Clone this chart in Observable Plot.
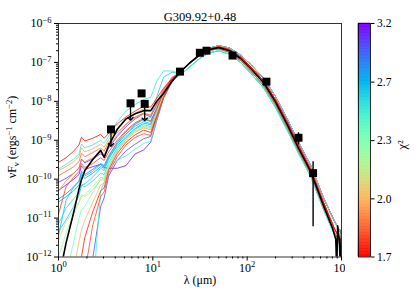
<!DOCTYPE html>
<html><head><meta charset="utf-8">
<script src="https://cdn.jsdelivr.net/npm/d3@7"></script>
<script src="https://cdn.jsdelivr.net/npm/@observablehq/plot@0.6"></script>
<style>
html,body{margin:0;padding:0;background:#fff;}
#wrap{position:relative;width:415px;height:298px;overflow:hidden;background:#fff;}
#main{position:absolute;left:0;top:0;}
#cbar{position:absolute;left:345px;top:0;}
</style></head><body>
<div id="wrap"><div id="main"></div><div id="cbar"></div></div>
<script>
const title = "G309.92+0.48";
const xLabel = "λ (μm)";
const chiLabel = "χ²";

// wavelength grid of the model SEDs (μm)
const lam = [1.0,1.2,1.45,1.65,1.75,1.9,2.3,2.8,3.05,3.4,4.2,5.2,6.5,8.0,9.5,11,13,16,20,25,32,40,50,65,85,110,150,200,270,350,470,650,850,1000];

// long-wavelength parts (20..1000 μm), log10 νFν
const tailA = [-7.24,-7.0,-6.77,-6.63,-6.57,-6.63,-6.81,-7.06,-7.41,-7.88,-8.48,-9.05,-9.64,-10.5,-11.1,-11.4];
const tailB = [-7.3,-7.1,-6.88,-6.75,-6.7,-6.79,-7.0,-7.29,-7.66,-8.16,-8.77,-9.33,-9.92,-10.8,-11.45,-11.75];
const tailC = [-7.23,-7.0,-6.78,-6.65,-6.60,-6.67,-6.86,-7.12,-7.48,-7.96,-8.56,-9.13,-9.74,-10.62,-11.3,-11.6];
const tailD = [-7.22,-7.01,-6.81,-6.69,-6.65,-6.74,-6.95,-7.23,-7.6,-8.09,-8.7,-9.27,-9.86,-10.75,-11.4,-11.7];

// chi2 of each model
const modelChi = [1.72,2.55,1.95,1.85,3.05,3.15,2.85,2.75,1.78,2.7,2.6,2.1,2.35,2.0,1.74,1.8,3.0,2.5,2.65,1.9,2.25];
// which tail each model uses
const modelTail = ["C","B","C","D","A","A","A","D","C","D","B","A","D","C","C","D","A","B","B","C","D"];
// short-wavelength parts (1..16 μm), log10 νFν
const modelShort = [
[-9.57,-9.45,-9.28,-9.12,-8.92,-9.02,-8.95,-8.85,-8.95,-8.82,-8.58,-8.4,-8.25,-8.12,-8.15,-7.92,-7.66,-7.42],
[-9.74,-9.62,-9.48,-9.35,-9.1,-9.2,-9.12,-9.0,-9.08,-8.9,-8.52,-8.25,-8.08,-7.95,-7.9,-7.48,-7.22,-7.22],
[-9.78,-9.68,-9.55,-9.42,-9.2,-9.3,-9.22,-9.1,-9.18,-8.98,-8.7,-8.48,-8.3,-8.2,-8.25,-8.02,-7.7,-7.40],
[-9.91,-9.8,-9.68,-9.55,-9.33,-9.42,-9.32,-9.2,-9.28,-9.05,-8.8,-8.58,-8.4,-8.3,-8.35,-8.1,-7.76,-7.42],
[-10.08,-9.98,-9.85,-9.72,-9.48,-9.58,-9.48,-9.35,-9.42,-9.2,-8.9,-8.65,-8.45,-8.32,-8.4,-8.08,-7.7,-7.38],
[-10.29,-10.15,-10.0,-9.88,-9.66,-9.75,-9.68,-9.62,-9.7,-9.72,-9.72,-9.65,-9.35,-9.25,-9.05,-8.5,-7.9,-7.5],
[-10.51,-10.38,-10.2,-10.05,-9.8,-9.88,-9.75,-9.6,-9.65,-9.4,-9.05,-8.78,-8.58,-8.46,-8.52,-8.18,-7.78,-7.42],
[-10.59,-10.45,-10.3,-10.15,-9.9,-9.98,-9.85,-9.68,-9.72,-9.45,-9.15,-8.9,-8.7,-8.56,-8.6,-8.23,-7.8,-7.45],
[-10.9,-10.2,-9.95,-9.8,-9.6,-9.7,-9.6,-9.45,-9.52,-9.3,-9.0,-8.75,-8.55,-8.44,-8.5,-8.18,-7.76,-7.42],
[-11.45,-10.55,-10.2,-10.05,-9.85,-9.92,-9.8,-9.62,-9.68,-9.42,-9.08,-8.84,-8.64,-8.52,-8.57,-8.23,-7.8,-7.45],
[-11.15,-10.75,-10.5,-10.35,-10.15,-10.2,-10.05,-9.85,-9.88,-9.58,-9.2,-8.94,-8.72,-8.6,-8.65,-8.28,-7.84,-7.47],
[-11.58,-11.1,-10.8,-10.6,-10.4,-10.45,-10.28,-10.02,-10.03,-9.72,-9.28,-8.98,-8.77,-8.65,-8.7,-8.3,-7.84,-7.43],
[-13.0,-12.5,-11.6,-11.0,-10.78,-10.7,-10.35,-10.0,-9.98,-9.62,-9.24,-8.96,-8.75,-8.63,-8.68,-8.28,-7.8,-7.43],
[-13.5,-13.0,-12.3,-11.6,-11.32,-11.05,-10.6,-10.15,-10.1,-9.72,-9.28,-9.0,-8.8,-8.68,-8.73,-8.33,-7.85,-7.45],
[-14.0,-13.5,-12.9,-12.3,-12.0,-11.5,-10.85,-10.3,-10.22,-9.77,-9.34,-9.05,-8.86,-8.74,-8.8,-8.38,-7.88,-7.45],
[-14.5,-14.0,-13.5,-13.0,-12.7,-12.4,-11.2,-10.45,-10.32,-9.85,-9.42,-9.12,-8.93,-8.83,-8.88,-8.43,-7.92,-7.47],
[-15.0,-14.6,-14.1,-13.6,-13.4,-13.1,-12.05,-10.7,-10.48,-9.92,-9.52,-9.27,-9.1,-8.96,-8.9,-8.33,-7.77,-7.4],
[-15.5,-15.0,-14.5,-14.1,-13.9,-13.6,-13.0,-10.3,-10.08,-9.68,-9.52,-9.4,-9.23,-9.08,-9.03,-8.48,-7.88,-7.45],
[-11.35,-11.05,-10.7,-10.42,-10.15,-10.12,-9.95,-9.72,-9.78,-9.5,-9.1,-8.84,-8.6,-8.46,-8.42,-7.88,-7.38,-7.25],
[-10.3,-10.05,-9.85,-9.7,-9.5,-9.55,-9.45,-9.3,-9.37,-9.16,-8.86,-8.6,-8.42,-8.32,-8.37,-8.06,-7.7,-7.4],
[-12.0,-11.4,-10.9,-10.6,-10.45,-10.4,-10.2,-9.95,-9.98,-9.66,-9.26,-8.96,-8.77,-8.68,-8.72,-8.33,-7.86,-7.44]
];

// best-fit model
const bestLam = [1.0,1.2,1.45,1.65,1.75,1.9,2.3,2.8,3.05,3.4,4.2,5.2,6.5,8.0,9.5,11,13,16,20,25,32,40,50,65,85,110,150,200,270,350,470,650,800,870,890,910,950,975,1000];
const bestLogF = [-12.6,-11.65,-10.85,-10.25,-10.02,-9.78,-9.5,-9.26,-9.44,-9.14,-8.72,-8.45,-8.32,-8.24,-8.24,-8.0,-7.8,-7.48,-7.22,-7.0,-6.79,-6.67,-6.62,-6.70,-6.90,-7.17,-7.53,-8.02,-8.63,-9.2,-9.8,-10.7,-11.25,-11.55,-12.4,-11.2,-11.6,-12.4,-11.3];

// observed fluxes
const obsLam = [3.6,5.8,7.6,8.2,19.4,31.5,37.1,70,160,350,500];
const obsFlux = [1.9e-9,8.9e-9,1.6e-8,8.6e-9,5.8e-8,1.77e-7,2.0e-7,1.5e-7,3.2e-8,1.16e-9,1.43e-10];
const obsErr = [0,0,0,0,0,0,0,0,0,4.0e-10,1.37e-10];
const obsUpper = [1,1,0,1,0,0,0,0,0,0,0];

// tick values
const xMajor = [1,10,100,1000];
const yMajor = [1e-12,1e-11,1e-10,1e-9,1e-8,1e-7,1e-6];
const chiTicks = [1.7,1.99,2.33,2.73,3.2];

const xMinor = [];
for (const d of [1,10,100]) for (let k = 2; k <= 9; k++) xMinor.push(k*d);
const yMinor = [];
for (let e = -12; e < -6; e++) for (let k = 2; k <= 9; k++) yMinor.push(k*Math.pow(10,e));

// matplotlib "rainbow" reversed (low chi2 = red)
function rainbowR(t){
  const x = 1 - t;
  const r = Math.min(1, Math.abs(2*x - 0.5));
  const g = Math.sin(Math.PI*x);
  const b = Math.cos(Math.PI*x/2);
  return `rgb(${Math.round(r*255)},${Math.round(g*255)},${Math.round(b*255)})`;
}
const colorOpts = {type:"log", domain:[1.7,3.2], interpolate: rainbowR};

const tails = {A: tailA, B: tailB, C: tailC, D: tailD};
const modelRows = [];
const order = d3.range(modelChi.length).sort((a,b) => modelChi[b]-modelChi[a]);
for (const i of order) {
  const full = modelShort[i].concat(tails[modelTail[i]]);
  lam.forEach((l, j) => modelRows.push({id:i, chi:modelChi[i], lam:l, f:Math.pow(10, full[j])}));
}
const bestRows = bestLam.map((l,j) => ({lam:l, f:Math.pow(10,bestLogF[j])}));
const obsRows = obsLam.map((l,j) => ({lam:l, f:obsFlux[j], err:obsErr[j], up:obsUpper[j]}));
const errRows = obsRows.filter(d => d.err > 0).map(d => ({lam:d.lam, lo:d.f-d.err, hi:d.f+d.err}));
const ulRows = obsRows.filter(d => d.up).map(d => ({lam:d.lam, f:d.f, end:d.f/2.5}));

const FONT = "'Liberation Serif', serif";
const fmtPow = d => "10|" + Math.round(Math.log10(d)).toString().replace("-","−");

const main = Plot.plot({
  width:345, height:298,
  marginLeft:58, marginRight:4, marginTop:23, marginBottom:41.5,
  x:{type:"log", domain:[1,1000]},
  y:{type:"log", domain:[1e-12,1e-6]},
  color: colorOpts,
  style:{background:"white", overflow:"visible", color:"black"},
  marks:[
    Plot.line(modelRows, {x:"lam", y:"f", z:"id", stroke:"chi", strokeWidth:0.8, clip:true}),
    Plot.line(bestRows, {x:"lam", y:"f", stroke:"black", strokeWidth:1.6, clip:true}),
    Plot.ruleX(errRows, {x:"lam", y1:"lo", y2:"hi", stroke:"black", strokeWidth:1.4}),
    Plot.link(ulRows, {x1:"lam", x2:"lam", y1:"f", y2:"end", stroke:"black", strokeWidth:1.3, markerEnd:"arrow"}),
    Plot.dot(obsRows, {x:"lam", y:"f", symbol:"square", r:4.5, fill:"black"}),
    Plot.frame({stroke:"black", strokeWidth:0.8}),
    Plot.axisX({ticks:xMajor, tickSize:4, tickPadding:2, tickFormat:fmtPow, label:null, fontSize:12}),
    Plot.axisX({ticks:xMinor, tickSize:2, tickFormat:() => "", label:null}),
    Plot.axisY({ticks:yMajor, tickSize:4, tickPadding:3, tickFormat:fmtPow, label:null, fontSize:12}),
    Plot.axisY({ticks:yMinor, tickSize:2, tickFormat:() => "", label:null}),
    Plot.text([title], {frameAnchor:"top", dy:-11, fontSize:12.5}),
    Plot.text([xLabel], {frameAnchor:"bottom", dy:26.5, fontSize:12})
  ]
});

function supTicks(svg){
  d3.select(svg).selectAll('g[aria-label$="tick label"] text').each(function(){
    const t = this.textContent;
    if (!t.includes("|")) return;
    const [b, e] = t.split("|");
    const s = d3.select(this);
    s.text(null);
    s.append("tspan").text(b);
    s.append("tspan").attr("dy","-4.5px").attr("font-size","8.5px").text(e);
  });
}
supTicks(main);

// y-axis label with sub/superscripts
const yl = d3.select(main).append("text")
  .attr("transform","translate(16,137) rotate(-90)")
  .attr("text-anchor","middle").attr("font-size","12px").attr("fill","black");
yl.append("tspan").text("νF");
yl.append("tspan").attr("dy","2.5px").attr("font-size","8.5px").text("ν");
yl.append("tspan").attr("dy","-2.5px").text(" (ergs");
yl.append("tspan").attr("dy","-4.5px").attr("font-size","8.5px").text("−1");
yl.append("tspan").attr("dy","4.5px").text(" cm");
yl.append("tspan").attr("dy","-4.5px").attr("font-size","8.5px").text("−2");
yl.append("tspan").attr("dy","4.5px").text(")");

function setFont(svg){
  svg.setAttribute("font-family", FONT);
  svg.style.fontFamily = FONT;
  d3.select(svg).selectAll("g, text, tspan").attr("font-family", FONT).style("font-family", FONT);
}
setFont(main);
document.getElementById("main").append(main);

// colorbar
const nb = 160;
const bands = d3.range(nb).map(i => {
  const a = 1.7*Math.pow(3.2/1.7, i/nb), b = 1.7*Math.pow(3.2/1.7, (i+1)/nb);
  return {y1:a, y2:b, v:Math.sqrt(a*b)};
});
const cbar = Plot.plot({
  width:70, height:298,
  marginLeft:13, marginRight:45, marginTop:23, marginBottom:41.5,
  x:{domain:[0,1], axis:null},
  y:{type:"log", domain:[1.7,3.2]},
  color: colorOpts,
  style:{background:"white", overflow:"visible", color:"black"},
  marks:[
    Plot.rect(bands, {x1:0, x2:1, y1:"y1", y2:"y2", fill:"v", stroke:"v", strokeWidth:0.6}),
    Plot.frame({stroke:"black", strokeWidth:0.8}),
    Plot.axisY({anchor:"right", ticks:chiTicks, tickFormat:d3.format(".1f"), tickSize:3.5, tickPadding:3, label:null, fontSize:11.5}),
    Plot.text([chiLabel], {frameAnchor:"right", dx:31, rotate:-90, fontSize:12.5})
  ]
});
setFont(cbar);
document.getElementById("cbar").append(cbar);
</script>
</body></html>
